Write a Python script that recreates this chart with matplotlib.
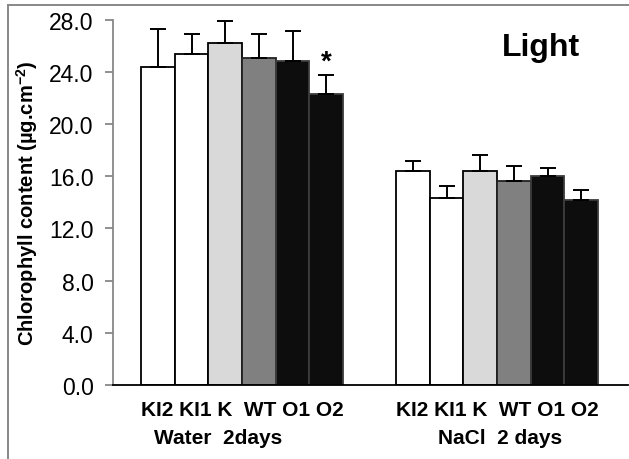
import matplotlib.pyplot as plt
import numpy as np

plt.rcParams['font.family'] = ['Liberation Sans', 'DejaVu Sans']
plt.rcParams['mathtext.fontset'] = 'custom'
plt.rcParams['mathtext.rm'] = 'Liberation Sans:bold'
plt.rcParams['mathtext.bf'] = 'Liberation Sans:bold'

# Data
lines = ['KI2', 'KI1', 'K', 'WT', 'O1', 'O2']
water_mean = [24.4, 25.4, 26.2, 25.1, 24.8, 22.3]
water_err = [2.9, 1.5, 1.7, 1.8, 2.3, 1.45]
nacl_mean = [16.4, 14.3, 16.4, 15.6, 16.0, 14.15]
nacl_err = [0.75, 0.95, 1.2, 1.15, 0.6, 0.8]
group_top = 'KI2 KI1 K  WT O1 O2'
group_names = ['Water  2days', 'NaCl  2 days']
bar_colors = ['white', 'white', '#d9d9d9', '#808080', '#0d0d0d', '#0d0d0d']
edge_colors = ['black', 'black', 'black', '#222222', '#3c3c3c', '#3c3c3c']

fig = plt.figure(figsize=(6.29, 4.60), dpi=100)
ax = fig.add_axes([0.1797, 0.1609, 0.8188, 0.7941])

gap = 7.57  # offset of the second group, in bar widths
x1 = np.arange(len(lines))
x2 = x1 + gap

for xs, means, errs in [(x1, water_mean, water_err), (x2, nacl_mean, nacl_err)]:
    ax.bar(xs, means, width=1.0, color=bar_colors, edgecolor=edge_colors,
           linewidth=1.3, zorder=2)
    ax.errorbar(xs, means, yerr=[np.zeros(len(errs)), errs], fmt='none',
                ecolor='black', elinewidth=1.4, capsize=5.5, capthick=1.4, zorder=3)

# significance mark on O2 / water
ax.text(x1[-1], water_mean[-1] + water_err[-1] + 1.0, '*', ha='center', va='center',
        fontsize=20, fontweight='bold')

ax.set_ylim(0, 28)
ax.set_xlim(-1.33, x2[-1] + 1.39)
ax.set_yticks(np.arange(0, 28.1, 4))
ax.set_yticklabels([f'{v:.1f}' for v in np.arange(0, 28.1, 4)], fontsize=16.5)

centers = [x1.mean(), x2.mean()]
ax.set_xticks(centers)
ax.set_xticklabels([group_top, group_top], fontsize=15, fontweight='bold')
ax.tick_params(axis='x', length=0, pad=11)
ax.tick_params(axis='y', length=6, width=1.3, color='#888888', pad=8)

# second line of category labels
offsets = [-0.71, 0.1]
for c, off, name in zip(centers, offsets, group_names):
    ax.text(c + off, -0.159, name, transform=ax.get_xaxis_transform(),
            ha='center', va='baseline', fontsize=15, fontweight='bold')

for side in ['top', 'right']:
    ax.spines[side].set_visible(False)
ax.spines['left'].set_color('#888888')
ax.spines['left'].set_linewidth(1.3)
ax.spines['bottom'].set_color('black')
ax.spines['bottom'].set_linewidth(1.3)

ax.text(0.831, 0.903, 'Light', transform=ax.transAxes, ha='center', va='baseline',
        fontsize=23, fontweight='bold')

fig.text(27 / 629, 0.559, r'Chlorophyll content (µg.cm$^{-2}$)', rotation=90,
         ha='center', va='center', fontsize=14.5, fontweight='bold')

# outer frame (only left and top edges are in view)
fig.add_artist(plt.Line2D([0.0127, 0.0127], [0, 0.987], color='#888888', lw=1.4,
                          transform=fig.transFigure))
fig.add_artist(plt.Line2D([0.0127, 1.0], [0.987, 0.987], color='#888888', lw=1.4,
                          transform=fig.transFigure))

fig.savefig('out.png', dpi=100)
